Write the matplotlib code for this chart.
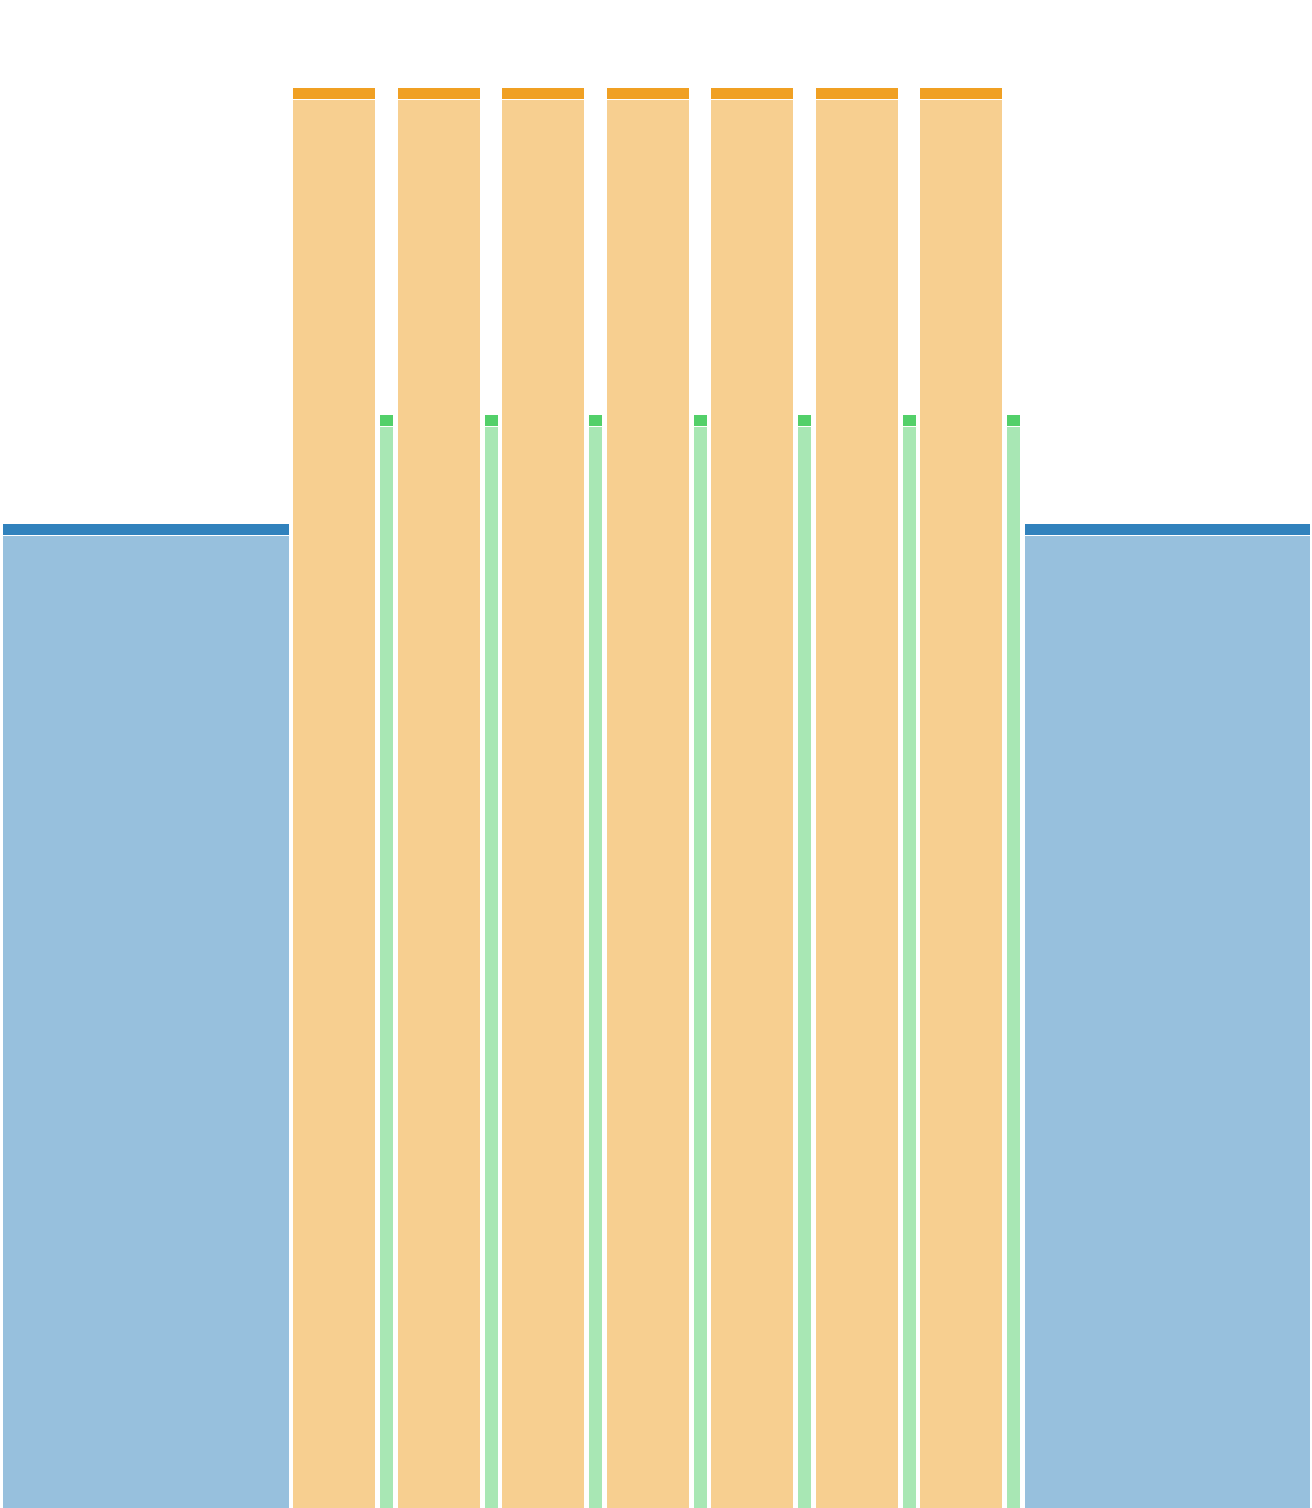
import matplotlib
matplotlib.use("Agg")
import matplotlib.pyplot as plt
import numpy as np

# ---- data ----
categories = ["A", "B1", "C1", "B2", "C2", "B3", "C3", "B4", "C4",
              "B5", "C5", "B6", "C6", "B7", "C7", "D"]
groups = ["blue"] + ["orange", "green"] * 7 + ["blue"]
values = [984] + [1420, 1093] * 7 + [984]          # bar heights
widths = [285.5] + [82.3, 13.0] * 7 + [285.5]      # bar widths (relative size)

colors = {"blue": "#3182bd", "orange": "#f0a023", "green": "#53d06a"}

# ---- layout ----
W, H = 1312, 1508
gap = 4.6
left_margin = 3.0
cap = 11.5

fig = plt.figure(figsize=(W / 100, H / 100), dpi=100)
ax = fig.add_axes([0, 0, 1, 1])
ax.set_xlim(0, W)
ax.set_ylim(0, H)
ax.axis("off")

lefts = left_margin + np.concatenate([[0], np.cumsum(np.array(widths[:-1]) + gap)])
for x, w, v, g in zip(lefts, widths, values, groups):
    c = colors[g]
    ax.bar(x, v - cap, width=w, bottom=0, align="edge", color=c, alpha=0.5,
           edgecolor="none", linewidth=0)
    ax.bar(x, cap - 1, width=w, bottom=v - cap + 1, align="edge", color=c,
           edgecolor="none", linewidth=0)

fig.savefig("out.png", dpi=100, facecolor="white")
